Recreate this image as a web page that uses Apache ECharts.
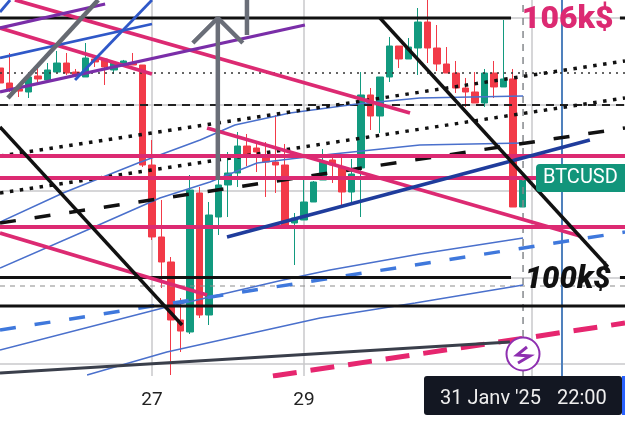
<!DOCTYPE html>
<html>
<head>
<meta charset="utf-8">
<style>html,body{margin:0;padding:0;background:#fff}#main{width:625px;height:423px}</style>
<script src="https://cdn.jsdelivr.net/npm/echarts@6/dist/echarts.min.js"></script>
</head>
<body>
<div id="main"></div>
<script>
// x is hours since 27 Jan 00:00, y is BTCUSD price
const barHours = 3;
const firstBarIndex = -16;
const candleOpen = [104844,104497,104360,104289,104659,104566,104751,104959,104751,104636,105052,105052,104798,104936,104959,104913,
  102601,100937,100359,99018,98740,101954,99133,101399,102139,102416,103040,102994,102786,102670,102601,101260,101330,101746,102254,102717,
  102555,101977,102532,104220,103734,104636,105352,105052,105306,105907,105306,104936,104728,104381,104289,104035,104728,104405,104590,101630];
const candleClose = [104497,104335,104310,104636,104590,104798,104959,104728,104682,105075,104983,104867,104959,105006,104913,102601,
  100937,100359,99018,98763,102023,99133,101445,102139,102416,103040,102832,102902,102670,102601,101214,101376,101746,102208,102670,102601,
  101977,102393,104220,103734,104636,105352,105052,105329,105907,105306,104936,104728,104381,104289,104035,104728,104405,104590,101630,102254];
const candleLow = [104400,104290,104173,104150,104520,104566,104751,104682,104636,104636,104867,104451,104705,104913,104913,102555,
  100867,99757,97746,98278,98694,99064,98902,100983,101399,102093,102578,102439,101862,101954,101214,100289,101330,101746,102254,102185,
  101607,101723,101399,103410,103341,104520,104844,105052,104682,104959,104774,104728,104266,103942,104035,103942,104150,104405,101630,101630];
const candleHigh = [105030,105191,104381,104682,104844,104959,105237,105191,104821,105422,105144,105052,104983,105030,105191,104913,
  103179,101792,100474,99526,102370,102093,101746,102601,102902,103364,103318,103110,103133,103757,103087,101491,102254,102231,102971,102763,
  102763,102740,104751,104381,104636,105561,105352,105537,106231,106416,105838,105329,105006,104613,104751,104821,105006,105954,104821,102254];

const dayTicks = [0, 48, 120];
const dayLabels = ["27", "29", ""];
const priceTicks = [98000, 100000, 102000, 104000, 106000];

const level106a = [[-48,106000],[113.4,106000]];
const level106b = [[147.8,106000],[149.4,106000]];
const level100a = [[-48,100000],[113.4,100000]];
const level100b = [[147.8,100000],[149.4,100000]];
const level99 = [[-48,99341],[149.4,99341]];
const dottedLevel = [[-48,104728],[149.4,104728]];
const dashedLevel = [[-48,103988],[149.4,103988]];
const crossPrice = [[-48,99804],[149.4,99804]];
const crossTime = [[117.2,97723],[117.2,106416]];
const blueTime = [[129.5,97723],[129.5,106416]];
const dottedUp1 = [[-48,102809],[149.4,105006]];
const dottedUp2 = [[-48,101954],[149.4,104150]];
const blackDashUp = [[-48,101260],[149.4,103457]];
const blueDashUp = [[-48,98786],[149.4,101052]];
const pinkDashUp = [[38.2,97723],[149.4,98948]];
const darkSupport = [[-48,97792],[113.05,98509]];
const ma1 = [[-48,101283],[-28.1,101954],[-15.5,102324],[-4.4,102647],[15.2,103179],[26.2,103526],[43.6,103803],[64.7,104012],[84.6,104150],[117.2,104196]];
const ma2 = [[-48,100220],[-19,101145],[2.5,101838],[18.3,102208],[33.2,102647],[43.6,102740],[57.2,102856],[84.6,103064],[117.2,103110]];
const ma3 = [[-48,98324],[4.7,99318],[41.4,99942],[56.2,100174],[84.6,100544],[117.2,100913]];
const ma4 = [[-20.5,97746],[4.7,98278],[53.1,99064],[83.1,99411],[117.2,99827]];
const pinkLevel1 = [[-48,102809],[149.4,102809]];
const pinkLevel2 = [[-48,102301],[149.4,102301]];
const pinkLevel3 = [[-48,101168],[149.4,101168]];
const pinkDown1 = [[-43.3,106416],[81.5,103803]];
const pinkDown2 = [[-48,105769],[0,104705]];
const pinkDown3 = [[-48,101029],[17.4,99596]];
const pinkDown4 = [[17.4,103457],[135.2,100960]];
const purpleUp1 = [[-48,105769],[-14.8,106324]];
const purpleUp2 = [[-48,104289],[48.3,105838]];
const navyUp = [[23.7,100937],[138.3,103179]];
const blueUp1 = [[-48,105075],[0,105861]];
const blueUp2 = [[-24.3,104566],[0,106416]];
const blueUp3 = [[-48,106139],[-44.8,106416]];
const grayUp = [[-45.5,104150],[-17,106416]];
const arrowShaft = [[20.8,106000],[20.8,102254]];
const arrowHead = [[12.9,105422],[20.8,106000],[28.7,105422]];
const arrowStub = [[30,106416],[30,105607]];
const blackDown1 = [[-48,103480],[9.5,98902]];
const blackDown2 = [[72,106000],[144,100243]];

const pink = "#dc2a72";
const trendLines = [
  [crossPrice, "#8c8c8c", 1.2, [5,5]],
  [crossTime, "#85888c", 1.5, [7,6]],
  [blueTime, "#4f80bd", 2, null],
  [dottedLevel, "#333333", 1.5, [2,5]],
  [dashedLevel, "#222222", 1.8, [8,6]],
  [ma1, "#4a70cc", 1.5, null],
  [ma2, "#4a70cc", 1.5, null],
  [ma3, "#4a70cc", 1.5, null],
  [ma4, "#4a70cc", 1.5, null],
  [dottedUp1, "#111111", 3.5, [3.5,6.5]],
  [dottedUp2, "#111111", 3.5, [3.5,6.5]],
  [blackDashUp, "#111111", 3.5, [16,19]],
  [blueDashUp, "#3f78dc", 3.5, [16,19]],
  [pinkDashUp, "#e6266f", 5, [24,14]],
  [darkSupport, "#3a3f4b", 3.2, null],
  [level106a, "#111111", 3.2, null],
  [level106b, "#111111", 3.2, null],
  [level100a, "#111111", 3.2, null],
  [level100b, "#111111", 3.2, null],
  [level99, "#111111", 3.2, null],
  [pinkLevel1, pink, 3.8, null],
  [pinkLevel2, pink, 3.8, null],
  [pinkLevel3, pink, 3.8, null],
  [pinkDown1, pink, 3.8, null],
  [pinkDown2, pink, 3.8, null],
  [pinkDown3, pink, 3.8, null],
  [pinkDown4, pink, 3.8, null],
  [purpleUp1, "#7a2ea8", 3.2, null],
  [purpleUp2, "#7a2ea8", 3.2, null],
  [navyUp, "#1f3c9c", 3.5, null],
  [blueUp1, "#2f58c8", 2.8, null],
  [blueUp2, "#2f58c8", 2.8, null],
  [blueUp3, "#2f58c8", 2.8, null],
  [grayUp, "#666a72", 4.5, null],
  [arrowShaft, "#6a6e78", 4.5, null],
  [arrowHead, "#6a6e78", 4.5, null],
  [arrowStub, "#6a6e78", 4.5, null],
  [blackDown1, "#111111", 3.4, null],
  [blackDown2, "#111111", 3.4, null],
];

const candles = candleOpen.map(function(open, i) {
  return [(firstBarIndex + i) * barHours, open, candleClose[i], candleLow[i], candleHigh[i]];
});

const series = [{
  type: "candlestick",
  data: candles,
  encode: {x: 0, y: [1, 2, 3, 4]},
  barWidth: 7,
  z: 2,
  itemStyle: {color: "#129a7f", color0: "#f23a48", borderColor: "#129a7f", borderColor0: "#f23a48", borderWidth: 1},
}];
trendLines.forEach(function(t, i) {
  series.push({
    type: "line",
    data: t[0],
    symbol: "none",
    silent: true,
    z: 3 + i * 0.01,
    lineStyle: {color: t[1], width: t[2], type: t[3] || "solid", cap: "butt"},
  });
});
// price callouts sit on their level
series.push({
  type: "scatter",
  symbolSize: 0,
  silent: true,
  z: 6,
  itemStyle: {opacity: 1},
  data: [
    {value: [131.3, 105960], label: {show: true, position: "inside", formatter: "106k$", color: "#dc2a72", fontFamily: "Roboto", fontWeight: 900, fontSize: 32}},
    {value: [131.3, 99930], label: {show: true, position: "inside", formatter: "100k$", color: "#111111", fontFamily: "Roboto", fontWeight: 900, fontStyle: "italic", fontSize: 31}},
  ],
});

const chart = echarts.init(document.getElementById("main"), null, {renderer: "canvas"});
chart.setOption({
  animation: false,
  backgroundColor: "#ffffff",
  grid: {left: 0, right: 0, top: 0, height: 376},
  xAxis: {
    type: "value",
    min: -48,
    max: 149.4,
    axisLine: {show: false},
    axisTick: {show: false, customValues: dayTicks},
    axisLabel: {
      customValues: dayTicks,
      margin: 15,
      fontFamily: "Roboto",
      fontSize: 19,
      color: "#222222",
      formatter: function(v) { return dayLabels[dayTicks.indexOf(v)]; },
    },
    splitLine: {show: true, lineStyle: {color: "#c8c8cb", width: 1.5}},
  },
  yAxis: {
    type: "value",
    min: 97723,
    max: 106416,
    axisLine: {show: false},
    axisTick: {show: false, customValues: priceTicks},
    axisLabel: {show: false, customValues: priceTicks},
    splitLine: {show: true, lineStyle: {color: "#c8c8cb", width: 1.5}},
  },
  series: series,
  graphic: [
    {type: "rect", z: 100, shape: {x: 536, y: 164, width: 95, height: 28, r: 4}, style: {fill: "#12957b"}},
    {type: "text", z: 101, style: {x: 543, y: 178, text: "BTCUSD", fill: "#ffffff", font: "20px Roboto", textVerticalAlign: "middle"}},
    {type: "circle", z: 100, shape: {cx: 523, cy: 354, r: 16.5}, style: {fill: "#ffffff", stroke: "#8e2fb0", lineWidth: 2}},
    {type: "polyline", z: 101, shape: {points: [[527,347],[517,355],[530,356],[518,363]]}, style: {stroke: "#8e2fb0", fill: null, lineWidth: 3}},
    {type: "rect", z: 100, shape: {x: 622, y: 376, width: 3, height: 39}, style: {fill: "#2962ff"}},
    {type: "rect", z: 101, shape: {x: 424, y: 376, width: 198, height: 39, r: 3}, style: {fill: "#131722"}},
    {type: "text", z: 102, style: {x: 440, y: 399, text: "31 Janv '25", fill: "#eeeeee", font: "20px Roboto", textVerticalAlign: "middle"}},
    {type: "text", z: 102, style: {x: 557, y: 399, text: "22:00", fill: "#eeeeee", font: "20px Roboto", textVerticalAlign: "middle"}},
  ],
});
</script>
</body>
</html>
